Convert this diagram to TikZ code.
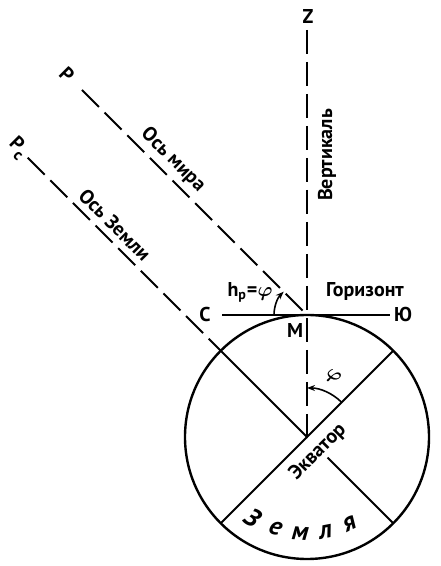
\documentclass[tikz,border=0pt]{standalone}
\usepackage{bm}
\usepackage{fontspec}
\setmainfont{PT Sans}
\usetikzlibrary{arrows.meta,positioning}

\begin{document}
\begin{tikzpicture}[x=0.5pt,y=0.5pt,
    axisline/.style={line width=1pt,dash pattern=on 12pt off 4pt},
    earthline/.style={line width=1pt},
    lbl/.style={inner sep=1pt,font=\fontsize{10}{11}\bfseries},
    angarrow/.style={line width=0.8pt,-{Stealth[length=4pt,width=3pt]}}]
    \useasboundingbox (-307,-129) rectangle (133,437);
      % earth and its points
      \coordinate (O) at (0,0);
      \coordinate (M) at (0,122);
      \coordinate (nw) at (135:122);
      \coordinate (ne) at (45:122);
      \coordinate (sw) at (225:122);
      \coordinate (se) at (-45:122);
      \coordinate (seStart) at (-45:29);
      \draw[line width=1.2pt] (O) circle (122);
      \draw[earthline] (nw) -- (O) -- (ne);
      \draw[earthline] (O) -- (sw);
      \draw[earthline] (seStart) -- (se);

      % horizon
      \coordinate (hzW) at (-85,122);
      \coordinate (hzE) at (83,122);
      \draw[earthline] (hzW) -- (hzE);
      \node[lbl] (S) at (-102,122) {С};
      \node[lbl] (Yu) at (96,122) {Ю};
      \node[lbl] (Mlabel) at (-12,106) {М};
      \node[lbl] (horizon) at (58,145) {Горизонт};

      % vertical
      \coordinate (zTop) at (0,407);
      \node[lbl] (Z) at (1,420) {Z};
      \draw[axisline] (zTop) -- (O);
      \node[lbl,rotate=90] (vertical) at (20,282) {Вертикаль};

      % axis of the world
      \coordinate (pTop) at (-225,347);
      \node[lbl,rotate=-45] (P) at (-240,362) {Р};
      \draw[axisline] (pTop) -- (M);
      \node[lbl,rotate=-45] (worldAxis) at (-134,277) {Ось мира};

      % axis of the earth
      \coordinate (pcTop) at (135:395);
      \node[lbl,rotate=-45] (Pc) at (135:409) {Р\raisebox{-3pt}{\fontsize{8}{9}\bfseries с}};
      \draw[axisline] (pcTop) -- (nw);
      \node[lbl,rotate=-45] (earthAxis) at (-192,212) {Ось Земли};

      % angles
      \coordinate (hpStart) at (-33,122);
      \draw[angarrow] (hpStart) arc[start angle=180,end angle=135,radius=33];
      \node[lbl] (hp) at (-57,145) {h\textsubscript{p}=$\bm{\varphi}$};
      \coordinate (phiStart) at (45:49);
      \draw[angarrow] (phiStart) arc[start angle=45,end angle=90,radius=49];
      \node[lbl,rotate=-30] (phi) at (26,60) {$\bm{\varphi}$};

      % equator and earth
      \node[lbl,rotate=45] (equator) at (11,-15) {Экватор};
      \foreach \ch/\a in {З/236,е/251,м/266,л/281,я/296}
        \node[lbl,font=\fontsize{13}{14}\bfseries\itshape,rotate=\a+90] at (\a:97) {\ch};
\end{tikzpicture}
\end{document}
